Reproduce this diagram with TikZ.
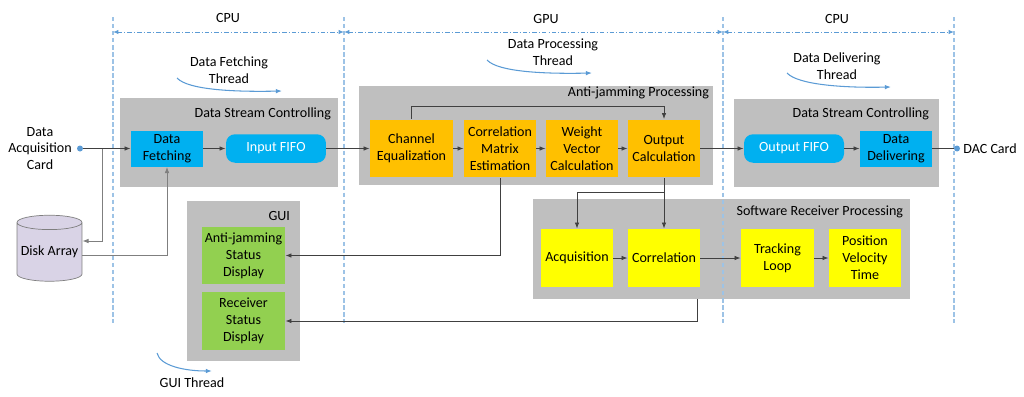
\documentclass[tikz,border=0pt]{standalone}
\usepackage{fontspec}
\setmainfont{Carlito}
\usetikzlibrary{arrows.meta,shapes.geometric}
\definecolor{panelgray}{HTML}{BFBFBF}
\definecolor{fetchblue}{HTML}{00B0F0}
\definecolor{ajorange}{HTML}{FFC000}
\definecolor{rxyellow}{HTML}{FFFF00}
\definecolor{guigreen}{HTML}{92D050}
\definecolor{diskfill}{HTML}{D9D3E6}
\definecolor{threadblue}{HTML}{5B9BD5}
\definecolor{tierblue}{HTML}{9DC3E6}
\definecolor{linegray}{HTML}{404040}
\definecolor{thingray}{HTML}{7F7F7F}
\begin{document}
\begin{tikzpicture}[
  x=0.02cm, y=-0.02cm,
  font=\fontsize{8}{9.6}\selectfont,
  panel/.style={fill=panelgray, inner sep=0pt},
  panellabel/.style={anchor=east, inner sep=0pt},
  block/.style={inner sep=0pt, align=center, minimum width=1.44cm, minimum height=1.16cm},
  fetchbox/.style={block, fill=fetchblue, minimum height=0.72cm},
  fifo/.style={block, fill=fetchblue, text=white, rounded corners=0.18cm, minimum width=2cm, minimum height=0.57cm},
  ajbox/.style={block, fill=ajorange},
  rxbox/.style={block, fill=rxyellow},
  guibox/.style={block, fill=guigreen, minimum width=1.66cm},
  flow/.style={draw=linegray, line width=0.5pt, -{Latex[length=3.5pt,width=2.6pt]}},
  diskflow/.style={flow, draw=thingray},
  thread/.style={draw=threadblue, line width=0.6pt, -{Latex[length=3.5pt,width=2.6pt]}},
  tierborder/.style={draw=tierblue, line width=0.6pt, dash pattern=on 2.5pt off 1.5pt},
  tierline/.style={draw=threadblue, line width=0.5pt, dash pattern=on 2.5pt off 1.2pt on 0.6pt off 1.2pt,
    {Latex[length=3pt,width=2.4pt]}-{Latex[length=3pt,width=2.4pt]}},
  cardport/.style={circle, fill=threadblue, inner sep=0pt, minimum size=0.12cm}
]
\useasboundingbox (0,0) rectangle (1024,396);

\node[panel, minimum width=4.36cm, minimum height=1.78cm] (dscin) at (229,142.5) {};
\node[panel, minimum width=7.08cm, minimum height=1.98cm] (ajp) at (536,135.5) {};
\node[panel, minimum width=4.10cm, minimum height=1.76cm] (dscout) at (836.5,143) {};
\node[panel, minimum width=7.54cm, minimum height=2.0cm] (srp) at (721.5,249) {};
\node[panel, minimum width=2.26cm, minimum height=3.2cm] (gui) at (243.5,281) {};
\node[panellabel] (dscinlbl) at ([shift={(-7,16)}]dscin.north east) {Data Stream Controlling};
\node[panellabel] (ajplbl) at ([shift={(-4,7)}]ajp.north east) {Anti-jamming Processing};
\node[panellabel] (dscoutlbl) at ([shift={(-10,15)}]dscout.north east) {Data Stream Controlling};
\node[panellabel] (srplbl) at ([shift={(-7,13)}]srp.north east) {Software Receiver Processing};
\node[panellabel] (guilbl) at ([shift={(-10,15)}]gui.north east) {GUI};

\foreach \x in {113,344,723,954}
  \draw[tierborder] (\x,17) -- (\x,323);
\foreach \a/\b in {113/344,344/723,723/954}
  \draw[tierline] (\a,32) -- (\b,32);
\node (cpuin) at (228,18) {CPU};
\node (gpu) at (546,19) {GPU};
\node (cpuout) at (837,19) {CPU};

\node[align=center] (fetchthr) at (229,70.5) {Data Fetching\\Thread};
\node[align=center] (procthr) at (553,52) {Data Processing\\Thread};
\node[align=center] (delivthr) at (837,66.5) {Data Delivering\\Thread};
\node (guithr) at (192,383) {GUI Thread};
\draw[thread] (177,78) .. controls (188,90) and (235,92) .. (282,91);
\draw[thread] (487,60) .. controls (498,72) and (545,74) .. (592,73);
\draw[thread] (787,73) .. controls (798,85) and (845,88) .. (891,87);
\draw[thread] (157,353) .. controls (160,366) and (185,371) .. (212,371);

\node[fetchbox] (fetch) at (167,148.5) {Data\\Fetching};
\node[fifo] (infifo) at (276,148.5) {Input FIFO};
\node[ajbox, minimum width=1.66cm] (chaneq) at (411.5,148.5) {Channel\\Equalization};
\node[ajbox] (corrmat) at (500,148.5) {Correlation\\Matrix\\Estimation};
\node[ajbox] (weight) at (582,148.5) {Weight\\Vector\\Calculation};
\node[ajbox] (output) at (664,148.5) {Output\\Calculation};
\node[fifo] (outfifo) at (794,148.5) {Output FIFO};
\node[fetchbox] (deliver) at (896,148.5) {Data\\Delivering};
\node[rxbox] (acq) at (577,258) {Acquisition};
\node[rxbox] (correl) at (664,258) {Correlation};
\node[rxbox, minimum width=1.46cm] (tracking) at (777.5,258) {Tracking\\Loop};
\node[rxbox] (pvt) at (865,258) {Position\\Velocity\\Time};
\node[guibox, minimum height=1.14cm] (ajstatus) at (243.5,255.5) {Anti-jamming\\Status\\Display};
\node[guibox] (rxstatus) at (243.5,321) {Receiver\\Status\\Display};
\node[cylinder, shape border rotate=90, aspect=0.25, draw=thingray, fill=diskfill,
  minimum width=1.3cm, minimum height=1.32cm, inner sep=0pt] (disk) at (49.5,252) {Disk Array};
\node[align=center] (daqcard) at (40,148.5) {Data\\Acquisition\\Card};
\node[cardport] (daqport) at (80,148.5) {};
\node[cardport] (dacport) at (957,148.5) {};
\node[anchor=west, inner sep=0pt] (daccard) at (963,148.5) {DAC Card};

\coordinate (daqsplit) at (102,148.5);
\draw[flow] (daqport) -- (fetch);
\draw[diskflow] (daqsplit) |- ([shift={(0,-11)}]disk.east);
\draw[diskflow] ([shift={(0,3)}]disk.east) -| (fetch);
\draw[flow] (fetch) -- (infifo);
\draw[flow] (infifo) -- (chaneq);
\draw[flow] (chaneq) -- (corrmat);
\draw[flow] (corrmat) -- (weight);
\draw[flow] (weight) -- (output);
\draw[flow] (output) -- (outfifo);
\draw[flow] (outfifo) -- (deliver);
\draw[draw=linegray, line width=0.5pt] (deliver) -- (dacport);
\draw[flow] (chaneq.north) -- ++(0,-13) -| (output.north);
\draw[flow] (corrmat.south) |- (ajstatus);
\draw[flow] (output) -- (correl);
\path (output.south) ++(0,15) coordinate (outtap);
\draw[flow] (outtap) -| (acq);
\draw[flow] (acq) -- (correl);
\draw[flow] (correl) -- (tracking);
\draw[flow] (tracking) -- (pvt);
\draw[flow] ([shift={(-24.5,0)}]srp.south) |- (rxstatus);
\end{tikzpicture}
\end{document}
